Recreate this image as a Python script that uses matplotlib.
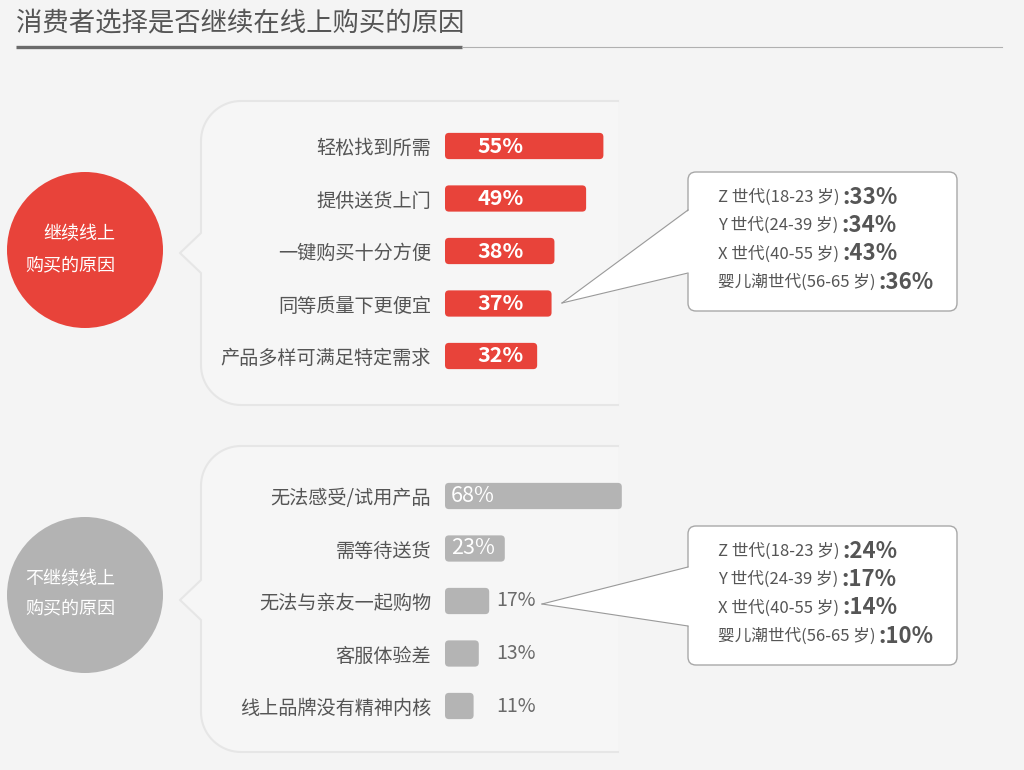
import numpy as np
import matplotlib
matplotlib.use("Agg")
from matplotlib import pyplot as plt
from matplotlib.patches import Circle, FancyBboxPatch, Polygon

plt.rcParams['font.family'] = ['Noto Sans CJK SC', 'DejaVu Sans']

TITLE = "消费者选择是否继续在线上购买的原因"

keep_reasons = ["轻松找到所需", "提供送货上门", "一键购买十分方便",
                "同等质量下更便宜", "产品多样可满足特定需求"]
keep_values = [55, 49, 38, 37, 32]

stop_reasons = ["无法感受/试用产品", "需等待送货", "无法与亲友一起购物",
                "客服体验差", "线上品牌没有精神内核"]
stop_values = [68, 23, 17, 13, 11]

generations = ["Z 世代(18-23 岁)", "Y 世代(24-39 岁)",
               "X 世代(40-55 岁)", "婴儿潮世代(56-65 岁)"]
keep_by_gen = [33, 34, 43, 36]
stop_by_gen = [24, 17, 14, 10]

W, H = 1024, 770
RED = "#e8433a"
GREY = "#b4b4b4"
TEXT = "#555555"
BG = "#f4f4f4"

fig = plt.figure(figsize=(W / 100, H / 100), dpi=100, facecolor=BG)
bg = fig.add_axes([0, 0, 1, 1])
bg.set_xlim(0, W)
bg.set_ylim(H, 0)
bg.axis("off")


def px_axes(left, top, width, height):
    return fig.add_axes([left / W, 1 - (top + height) / H, width / W, height / H])


# title + underline
bg.text(16, 23, TITLE, fontsize=19, color=TEXT, va="center")
bg.plot([16, 462], [47, 47], color="#6a6a6a", lw=2.4, solid_capstyle="butt")
bg.plot([462, 1002], [47, 47], color="#b0b0b0", lw=0.8)


def panel(top, bottom, notch_y):
    r = 40
    left, right = 201, 618
    t1 = np.linspace(np.pi / 2, np.pi, 20)
    t2 = np.linspace(np.pi, 1.5 * np.pi, 20)
    xs = np.concatenate([[right], left + r + r * np.cos(t1),
                         [left, left - 21, left],
                         left + r + r * np.cos(t2), [right]])
    ys = np.concatenate([[top], top + r - r * np.sin(t1),
                         [notch_y - 20, notch_y, notch_y + 20],
                         bottom - r - r * np.sin(t2), [bottom]])
    bg.fill(xs, ys, color="#f6f6f6", lw=0)
    bg.plot(xs, ys, color="#e6e6e6", lw=1.5)


panel(101, 405, 253)
panel(446, 752, 600)

# circles
bg.add_patch(Circle((85, 250), 78, color=RED, lw=0))
bg.add_patch(Circle((85, 595), 78, color="#b3b3b3", lw=0))
bg.text(115, 234, "继续线上", ha="right", va="center", fontsize=13, color="white")
bg.text(115, 265, "购买的原因", ha="right", va="center", fontsize=13, color="white")
bg.text(115, 579, "不继续线上", ha="right", va="center", fontsize=13, color="white")
bg.text(115, 608, "购买的原因", ha="right", va="center", fontsize=13, color="white")


def callout(box_top, tip, base, values):
    box = FancyBboxPatch((688, box_top), 269, 139,
                         boxstyle="round,pad=0,rounding_size=8",
                         fc="white", ec="#a8a8a8", lw=1, zorder=2)
    bg.add_patch(box)
    tri = Polygon([(689.5, base[0]), tip, (689.5, base[1])], closed=True,
                  fc="white", ec="none", zorder=3)
    bg.add_patch(tri)
    for by in base:
        bg.plot([tip[0], 688], [tip[1], by], color="#9a9a9a", lw=0.8, zorder=3)
    for i, (g, v) in enumerate(zip(generations, values)):
        y = box_top + 25 + i * 28.5
        t = bg.text(718, y, g, fontsize=12, color=TEXT, va="center", zorder=4)
        bg.annotate(":{}%".format(v), xy=(1, 0.5), xycoords=t,
                    xytext=(3, 0), textcoords="offset pixels",
                    va="center", ha="left", fontsize=16, fontweight="bold",
                    color=TEXT, zorder=4)


callout(172, (562, 303), (210, 273), keep_by_gen)
callout(526, (542, 604), (567, 626), stop_by_gen)


def bar_panel(row0, px_per_pct, reasons, values, color):
    ax = px_axes(445, row0 - 26.25, 100 * px_per_pct, 262.5)
    bars = ax.barh(range(len(values)), values, height=0.5, color=color)
    # swap the plain rectangles for ones with slightly rounded corners
    aspect = px_per_pct / 52.5
    for b in bars:
        b.set_visible(False)
        ax.add_patch(FancyBboxPatch((b.get_x(), b.get_y()), b.get_width(), b.get_height(),
                                    boxstyle="round,pad=0,rounding_size={}".format(4 / px_per_pct),
                                    mutation_aspect=aspect, fc=color, ec="none"))
    ax.set_xlim(0, 100)
    ax.set_ylim(4.5, -0.5)
    ax.set_yticks(range(len(reasons)), reasons)
    ax.tick_params(axis="y", length=0, pad=10, labelsize=13.8, labelcolor=TEXT)
    ax.set_xticks([])
    for s in ax.spines.values():
        s.set_visible(False)
    ax.patch.set_alpha(0)
    return ax


ax1 = bar_panel(146, 2.88, keep_reasons, keep_values, RED)
for i, v in enumerate(keep_values):
    ax1.annotate("{}%".format(v), xy=(0, i), xytext=(32, 0),
                 textcoords="offset pixels", va="center", color="white",
                 fontsize=15.5, fontweight="semibold")

ax2 = bar_panel(496, 2.6, stop_reasons, stop_values, GREY)
for i, v in enumerate(stop_values):
    if v >= 20:
        ax2.annotate("{}%".format(v), xy=(0, i), xytext=(6, 0),
                     textcoords="offset pixels", va="center", color="white",
                     fontsize=15.5)
    else:
        ax2.annotate("{}%".format(v), xy=(0, i), xytext=(51, 0),
                     textcoords="offset pixels", va="center", color="#6a6a6a",
                     fontsize=14)

fig.savefig("out.png", dpi=100, facecolor=BG)
